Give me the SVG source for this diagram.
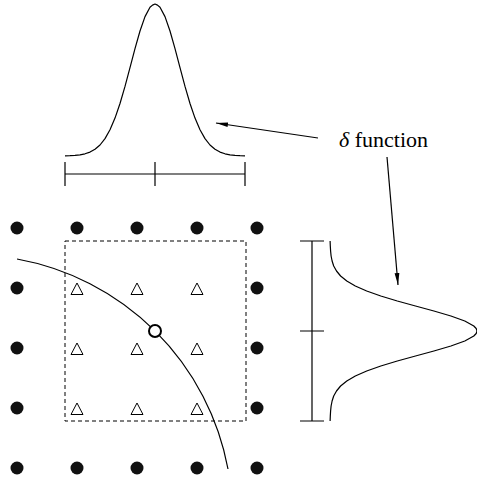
<svg xmlns="http://www.w3.org/2000/svg" width="477" height="483" viewBox="0 0 477 483">
<style>
.ln{fill:none;stroke:#000;stroke-width:1.2}
.dot{fill:#111}
.tri{fill:#fff;stroke:#000;stroke-width:1}
.lbl{font-family:"Liberation Serif","Times New Roman",serif;font-size:22px;fill:#000}
</style>
<defs>
<marker id="ah" viewBox="0 0 12 6" refX="12" refY="3" markerWidth="12" markerHeight="6" markerUnits="userSpaceOnUse" orient="auto">
<path d="M0,0.6 L12,3 L0,5.4 Z" fill="#000"/>
</marker>
<circle id="d" r="6.5" class="dot"/>
<path id="t" d="M0,-6 L-6,5.5 L6,5.5 Z" class="tri"/>
</defs>
<rect width="477" height="483" fill="#fff"/>
<g id="top-gaussian">
<polyline class="ln" stroke-linejoin="round" points="65,155.87 70,155.71 75,155.41 80,154.85 85,153.8 90,152.1 95,149.3 100,145.0 105,138.6 110,129.8 115,118.1 120,103.5 125,86.4 130,67.6 135,48.6 140,31.0 145,16.6 150,7.3 152.5,5.1 155,4 157.5,5.1 160,7.3 165,16.6 170,31.0 175,48.6 180,67.6 185,86.4 190,103.5 195,118.1 200,129.8 205,138.6 210,145.0 215,149.3 220,152.1 225,153.8 230,154.85 235,155.41 240,155.71 245,155.87"/>
<path class="ln" d="M65,174 H245 M65,162 V186 M155,162 V186 M245,162 V186"/>
</g>
<g id="right-gaussian">
<polyline class="ln" stroke-linejoin="round" points="330.1,241 330.3,246 330.6,251 331.1,256 332.1,261 333.7,266 336.5,271 340.6,276 346.8,281 355.3,286 366.7,291 380.8,296 397.3,301 415.5,306 433.9,311 450.9,316 464.8,321 473.8,326 476.2,328.5 477,331 476.2,333.5 473.8,336 464.8,341 450.9,346 433.9,351 415.5,356 397.3,361 380.8,366 366.7,371 355.3,376 346.8,381 340.6,386 336.5,391 333.7,396 332.1,401 331.1,406 330.6,411 330.3,416 330.1,421"/>
<path class="ln" d="M312,241 V421 M300,241 H324 M300,331 H324 M300,421 H324"/>
</g>
<g id="grid-dots">
<use href="#d" x="17" y="228"/><use href="#d" x="77" y="228"/><use href="#d" x="137" y="228"/><use href="#d" x="197" y="228"/><use href="#d" x="257" y="228"/>
<use href="#d" x="17" y="288"/><use href="#d" x="257" y="288"/>
<use href="#d" x="17" y="348"/><use href="#d" x="257" y="348"/>
<use href="#d" x="17" y="408"/><use href="#d" x="257" y="408"/>
<use href="#d" x="17" y="468"/><use href="#d" x="77" y="468"/><use href="#d" x="137" y="468"/><use href="#d" x="197" y="468"/><use href="#d" x="257" y="468"/>
</g>
<g id="window">
<rect x="65" y="241" width="181" height="180" fill="none" stroke="#000" stroke-width="1" stroke-dasharray="4,3"/>
</g>
<g id="triangles">
<use href="#t" x="77" y="289"/><use href="#t" x="137" y="289"/><use href="#t" x="197" y="289"/>
<use href="#t" x="77" y="349"/><use href="#t" x="137" y="349"/><use href="#t" x="197" y="349"/>
<use href="#t" x="77" y="409"/><use href="#t" x="137" y="409"/><use href="#t" x="197" y="409"/>
</g>
<g id="interface">
<path class="ln" d="M17,259 A262,262 0 0 1 228,469"/>
<circle cx="155" cy="331" r="6" fill="#fff" stroke="#000" stroke-width="2"/>
</g>
<g id="label">
<text class="lbl" x="339" y="147"><tspan font-style="italic">δ</tspan> function</text>
</g>
<g id="connectors">
<line class="ln" x1="318" y1="138" x2="216" y2="123" marker-end="url(#ah)"/>
<line class="ln" x1="387" y1="157" x2="398" y2="285" marker-end="url(#ah)"/>
</g>
</svg>
